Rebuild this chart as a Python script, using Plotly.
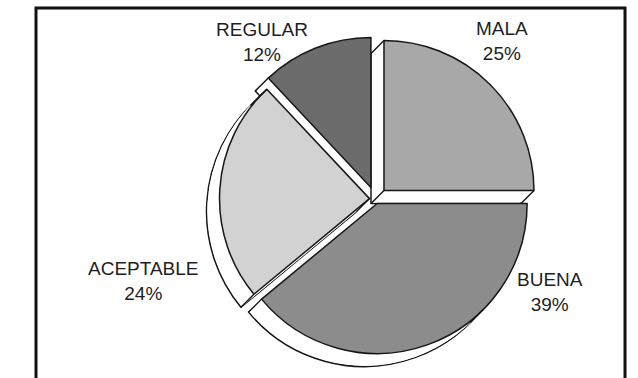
import math
import plotly.graph_objects as go

# Survey rating shares, drawn clockwise from 12 o'clock
labels = ["MALA", "BUENA", "ACEPTABLE", "REGULAR"]
values = [25, 39, 24, 12]
colors = ["#a8a8a8", "#8c8c8c", "#d2d2d2", "#6c6c6c"]
pulls = [0.08, 0.032, 0.04, 0.083]

# Label placement (pixel centres of each two-line label block)
label_pos = {
    "MALA": (502, 41),
    "BUENA": (550, 292),
    "ACEPTABLE": (143, 281),
    "REGULAR": (262, 42),
}

W, H = 638, 378
CX, CY = 375.5, 199.0      # pie centre in pixels (from top-left)
R = 150                    # pie radius in pixels
DEPTH = 13                 # extrusion depth, offset down-left in pixels
EDGE = "#161616"

half = R * (1 + max(pulls))


def domain_at(cx, cy):
    yb = H - cy
    return dict(x=[(cx - half) / W, (cx + half) / W],
                y=[(yb - half) / H, (yb + half) / H])


def pie_layer(offset, fill, line_w):
    return go.Pie(
        labels=labels,
        values=values,
        sort=False,
        direction="clockwise",
        rotation=0,
        pull=pulls,
        textinfo="none",
        hoverinfo="skip",
        marker=dict(colors=fill, line=dict(color=EDGE, width=line_w)),
        domain=domain_at(CX - offset, CY + offset),
        showlegend=False,
    )


fig = go.Figure()

# Back face with outline, then solid white extrusion, then the front faces
fig.add_trace(pie_layer(DEPTH, ["#ffffff"] * len(values), 1.5))
for t in range(DEPTH - 1, 0, -1):
    fig.add_trace(pie_layer(t, ["#ffffff"] * len(values), 0))
fig.add_trace(pie_layer(0, colors, 1.5))

# Side-face edges of the extrusion, derived from the slice geometry
total = sum(values)
slices = {}
acc = 0.0
for lab, val, p in zip(labels, values, pulls):
    a0 = 360.0 * acc / total
    a1 = 360.0 * (acc + val) / total
    mid = math.radians((a0 + a1) / 2)
    vx = CX + p * R * math.sin(mid)
    vy = CY - p * R * math.cos(mid)
    slices[lab] = (a0, a1, vx, vy)
    acc += val


def arc_point(lab, ang):
    a0, a1, vx, vy = slices[lab]
    t = math.radians(ang)
    return vx + R * math.sin(t), vy - R * math.cos(t)


edge_pts = []
for lab, which in [("MALA", "start"), ("MALA", "end"), ("MALA", "vertex"),
                   ("REGULAR", "start"), ("ACEPTABLE", "start"),
                   ("ACEPTABLE", "end"), ("ACEPTABLE", "vertex"),
                   ("BUENA", "end")]:
    a0, a1, vx, vy = slices[lab]
    if which == "vertex":
        edge_pts.append((vx, vy))
    else:
        edge_pts.append(arc_point(lab, a0 if which == "start" else a1))
# silhouette tangents of the rounded side face
for lab, (a0, a1, vx, vy) in slices.items():
    for ang in (135.0, 315.0):
        if a0 < ang < a1:
            edge_pts.append(arc_point(lab, ang))

shapes = []
for (x0, y0) in edge_pts:
    shapes.append(dict(type="line", xref="x", yref="y", layer="above",
                       x0=x0, y0=y0, x1=x0 - DEPTH, y1=y0 + DEPTH,
                       line=dict(color=EDGE, width=1.4)))

# Frame around the chart (open at the bottom edge of the page)
shapes.append(dict(
    type="rect", xref="paper", yref="paper",
    x0=36 / W, x1=625 / W, y0=-20 / H, y1=1 - 8 / H,
    line=dict(color="#111111", width=3), fillcolor="rgba(0,0,0,0)",
))

annotations = []
for lab, val in zip(labels, values):
    px, py = label_pos[lab]
    annotations.append(dict(
        x=px / W, y=1 - py / H, xref="paper", yref="paper",
        text=f"{lab}<br>{val}%", showarrow=False,
        xanchor="center", yanchor="middle", align="center",
        font=dict(family="Liberation Sans, Arial, sans-serif", size=19, color="#1e1e1e"),
    ))

fig.update_layout(
    width=W, height=H, autosize=False,
    margin=dict(l=0, r=0, t=0, b=0),
    paper_bgcolor="white", plot_bgcolor="rgba(0,0,0,0)",
    xaxis=dict(range=[0, W], visible=False, fixedrange=True, domain=[0, 1]),
    yaxis=dict(range=[H, 0], visible=False, fixedrange=True, domain=[0, 1]),
    annotations=annotations, shapes=shapes,
    hovermode=False,
)

fig.write_html("out.html")
